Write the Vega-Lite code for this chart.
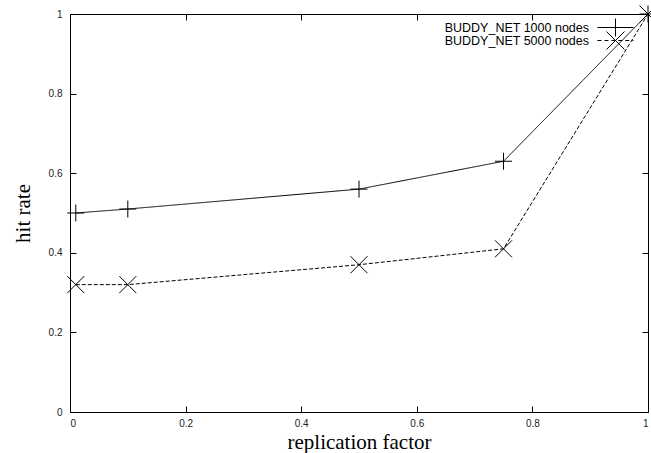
{
  "$schema": "https://vega.github.io/schema/vega-lite/v6.json",
  "width": 578,
  "height": 398,
  "autosize": "none",
  "padding": {"left": 70, "top": 14, "right": 3, "bottom": 41},
  "background": "white",
  "config": {
    "view": {"stroke": "black", "strokeWidth": 1},
    "axis": {
      "grid": false,
      "domain": false,
      "tickColor": "black",
      "tickSize": -6,
      "labelFont": "Liberation Sans",
      "labelFontSize": 10,
      "labelColor": "#222",
      "titleFont": "Liberation Serif",
      "titleFontSize": 21,
      "titleFontWeight": "normal",
      "titleColor": "black"
    },
    "legend": {
      "title": null,
      "orient": "none",
      "labelFont": "Liberation Sans",
      "labelFontSize": 12.5,
      "labelColor": "black",
      "labelAlign": "right",
      "labelOffset": -33.5,
      "labelLimit": 300,
      "rowPadding": 0,
      "padding": 0,
      "symbolSize": 169,
      "symbolStrokeColor": "black",
      "symbolStrokeWidth": 1,
      "symbolFillColor": "transparent",
      "symbolOpacity": 1
    }
  },
  "data": {
    "values": [
      {"x": 0.01, "y": 0.5, "series": "BUDDY_NET 1000 nodes"},
      {"x": 0.1, "y": 0.51, "series": "BUDDY_NET 1000 nodes"},
      {"x": 0.5, "y": 0.56, "series": "BUDDY_NET 1000 nodes"},
      {"x": 0.75, "y": 0.63, "series": "BUDDY_NET 1000 nodes"},
      {"x": 1.0, "y": 1.0, "series": "BUDDY_NET 1000 nodes"},
      {"x": 0.01, "y": 0.32, "series": "BUDDY_NET 5000 nodes"},
      {"x": 0.1, "y": 0.32, "series": "BUDDY_NET 5000 nodes"},
      {"x": 0.5, "y": 0.37, "series": "BUDDY_NET 5000 nodes"},
      {"x": 0.75, "y": 0.41, "series": "BUDDY_NET 5000 nodes"},
      {"x": 1.0, "y": 1.0, "series": "BUDDY_NET 5000 nodes"}
    ]
  },
  "resolve": {
    "axis": {"x": "independent", "y": "independent"},
    "scale": {"shape": "independent"},
    "legend": {"shape": "independent"}
  },
  "layer": [
    {
      "mark": {"type": "line", "color": "black", "strokeWidth": 1},
      "encoding": {
        "x": {
          "field": "x", "type": "quantitative",
          "scale": {"domain": [0, 1], "nice": false, "zero": false},
          "axis": {"orient": "bottom", "values": [0, 0.2, 0.4, 0.6, 0.8, 1], "format": "~g", "labelPadding": 12, "title": "replication factor", "titleX": 289, "titleY": 36, "titleAlign": "center", "titleBaseline": "alphabetic"}
        },
        "y": {
          "field": "y", "type": "quantitative",
          "scale": {"domain": [0, 1], "nice": false},
          "axis": {"orient": "left", "values": [0, 0.2, 0.4, 0.6, 0.8, 1], "format": "~g", "labelPadding": 14, "title": "hit rate", "titleX": -47, "titleY": 199, "titleAngle": -90, "titleAlign": "center", "titleBaseline": "middle"}
        },
        "strokeDash": {
          "field": "series", "type": "nominal",
          "scale": {"domain": ["BUDDY_NET 1000 nodes", "BUDDY_NET 5000 nodes"], "range": [[1, 0], [4, 2]]},
          "legend": null
        }
      }
    },
    {
      "mark": {"type": "point", "filled": false, "color": "black", "strokeWidth": 1, "size": 289, "opacity": 1},
      "encoding": {
        "x": {
          "field": "x", "type": "quantitative",
          "axis": {"orient": "top", "values": [0, 0.2, 0.4, 0.6, 0.8, 1], "labels": false, "title": null}
        },
        "y": {
          "field": "y", "type": "quantitative",
          "axis": {"orient": "right", "values": [0, 0.2, 0.4, 0.6, 0.8, 1], "labels": false, "title": null}
        },
        "shape": {
          "field": "series", "type": "nominal",
          "scale": {"domain": ["BUDDY_NET 1000 nodes", "BUDDY_NET 5000 nodes"], "range": ["M-1,0H1M0,-1V1", "M-1,-1L1,1M-1,1L1,-1"]},
          "legend": null
        }
      }
    },
    {
      "transform": [{"filter": "datum.x > 5"}],
      "mark": {"type": "point", "filled": false, "color": "black", "strokeWidth": 1, "size": 169, "opacity": 1},
      "encoding": {
        "x": {"field": "x", "type": "quantitative", "axis": null},
        "y": {"field": "y", "type": "quantitative", "axis": null},
        "shape": {
          "field": "series", "type": "nominal",
          "scale": {"domain": ["BUDDY_NET 1000 nodes"], "range": ["M-2.77,0H2.77M0,-1.38V1.38"]},
          "legend": {"legendX": 538.5, "legendY": 6.5}
        }
      }
    },
    {
      "transform": [{"filter": "datum.x > 5"}],
      "mark": {"type": "point", "filled": false, "color": "black", "strokeWidth": 1, "size": 169, "opacity": 1},
      "encoding": {
        "x": {"field": "x", "type": "quantitative", "axis": null},
        "y": {"field": "y", "type": "quantitative", "axis": null},
        "shape": {
          "field": "series", "type": "nominal",
          "scale": {"domain": ["BUDDY_NET 5000 nodes"], "range": ["M-2.77,0H-2.16M-1.7,0H-1.09M-0.63,0H-0.02M0.44,0H1.05M1.51,0H2.12M2.58,0H2.77M-1.38,-1.38L1.38,1.38M-1.38,1.38L1.38,-1.38"]},
          "legend": {"legendX": 538.5, "legendY": 19.5}
        }
      }
    }
  ]
}
